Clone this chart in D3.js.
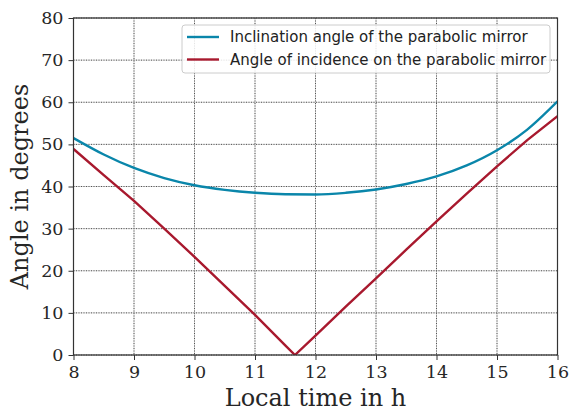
<!DOCTYPE html>
<html>
<head>
<meta charset="utf-8">
<script src="https://cdn.jsdelivr.net/npm/d3@7"></script>
<style>
  html, body { margin: 0; padding: 0; background: #fff; }
  svg { display: block; }
</style>
</head>
<body>
<svg id="chart" width="571" height="412"></svg>
<script>
// ---- data ----
const hours = [8, 8.5, 9, 9.5, 10, 10.5, 11, 11.5, 12, 12.5, 13, 13.5, 14, 14.5, 15, 15.5, 16];
const inclination = [51.5, 47.6, 44.4, 42.0, 40.3, 39.2, 38.5, 38.15, 38.1, 38.5, 39.3, 40.6, 42.4, 45.0, 48.6, 53.5, 60.2];
const incidenceHours = [8, 8.5, 9, 9.5, 10, 10.5, 11, 11.5, 11.66, 12, 12.5, 13, 13.5, 14, 14.5, 15, 15.5, 16];
const incidence = [48.9, 42.7, 36.6, 30.0, 23.3, 16.4, 9.5, 2.3, 0, 4.6, 11.5, 18.2, 25.0, 31.7, 38.3, 44.8, 51.0, 56.7];
const xTicks = [8, 9, 10, 11, 12, 13, 14, 15, 16];
const yTicks = [0, 10, 20, 30, 40, 50, 60, 70, 80];
const seriesNames = ["Inclination angle of the parabolic mirror", "Angle of incidence on the parabolic mirror"];
const seriesColors = ["#0a86aa", "#a8192e"];

// ---- layout ----
const svg = d3.select("#chart");
const L = 73.5, R = 557.5, T = 18, B = 355;
const x = d3.scaleLinear().domain([8, 16]).range([L, R]);
const y = d3.scaleLinear().domain([0, 80]).range([B, T]);
const serif = "'DejaVu Serif', serif";
const sans = "'DejaVu Sans', sans-serif";

// grid
const grid = svg.append("g");
xTicks.forEach(t => {
  grid.append("line").attr("x1", x(t)).attr("x2", x(t)).attr("y1", T).attr("y2", B)
    .attr("stroke", "#c8c8c8").attr("stroke-width", 0.8);
  grid.append("line").attr("x1", x(t)).attr("x2", x(t)).attr("y1", T).attr("y2", B)
    .attr("stroke", "#333").attr("stroke-width", 0.8).attr("stroke-dasharray", "1,1.5");
});
yTicks.forEach(t => {
  grid.append("line").attr("x1", L).attr("x2", R).attr("y1", y(t)).attr("y2", y(t))
    .attr("stroke", "#c8c8c8").attr("stroke-width", 0.8);
  grid.append("line").attr("x1", L).attr("x2", R).attr("y1", y(t)).attr("y2", y(t))
    .attr("stroke", "#333").attr("stroke-width", 0.8).attr("stroke-dasharray", "1,1.5");
});

// lines
svg.append("clipPath").attr("id", "clip").append("rect")
  .attr("x", L).attr("y", T).attr("width", R - L).attr("height", B - T);
const plot = svg.append("g").attr("clip-path", "url(#clip)");
const blueLine = d3.line().x((d, i) => x(hours[i])).y(d => y(d)).curve(d3.curveMonotoneX);
const redLine = d3.line().x((d, i) => x(incidenceHours[i])).y(d => y(d));
plot.append("path").attr("d", blueLine(inclination)).attr("fill", "none")
  .attr("stroke", seriesColors[0]).attr("stroke-width", 2.4);
plot.append("path").attr("d", redLine(incidence)).attr("fill", "none")
  .attr("stroke", seriesColors[1]).attr("stroke-width", 2.4);

// axes
const xAxis = svg.append("g").attr("transform", `translate(0,${B})`)
  .call(d3.axisBottom(x).tickValues(xTicks).tickSize(5).tickPadding(6).tickFormat(d3.format("d")));
const yAxis = svg.append("g").attr("transform", `translate(${L},0)`)
  .call(d3.axisLeft(y).tickValues(yTicks).tickSize(5).tickPadding(5).tickFormat(d3.format("d")));
[xAxis, yAxis].forEach(a => {
  a.select(".domain").remove();
  a.selectAll(".tick line").attr("stroke", "#333").attr("stroke-width", 1);
  a.selectAll(".tick text").attr("fill", "#262626").style("font-family", serif).style("font-size", "17.5px");
});
// frame
svg.append("rect").attr("x", L).attr("y", T).attr("width", R - L).attr("height", B - T)
  .attr("fill", "none").attr("stroke", "#333").attr("stroke-width", 1.2);

// axis labels
svg.append("text").attr("x", (L + R) / 2).attr("y", 406).attr("text-anchor", "middle")
  .style("font-family", serif).style("font-size", "24px").attr("fill", "#262626").text("Local time in h");
svg.append("text").attr("transform", `translate(28,${(T + B) / 2}) rotate(-90)`).attr("text-anchor", "middle")
  .style("font-family", serif).style("font-size", "24px").attr("fill", "#262626").text("Angle in degrees");

// legend
const lg = svg.append("g");
lg.append("rect").attr("x", 182).attr("y", 25).attr("width", 368).attr("height", 48).attr("rx", 3)
  .attr("fill", "#fff").attr("fill-opacity", 0.85).attr("stroke", "#ccc").attr("stroke-width", 1);
seriesNames.forEach((n, i) => {
  const yy = 37 + i * 22.5;
  lg.append("line").attr("x1", 187).attr("x2", 219).attr("y1", yy).attr("y2", yy)
    .attr("stroke", seriesColors[i]).attr("stroke-width", 2.4);
  lg.append("text").attr("x", 230).attr("y", yy).attr("dy", "0.35em")
    .style("font-family", sans).style("font-size", "15px").attr("fill", "#222").text(n);
});
</script>
</body>
</html>
